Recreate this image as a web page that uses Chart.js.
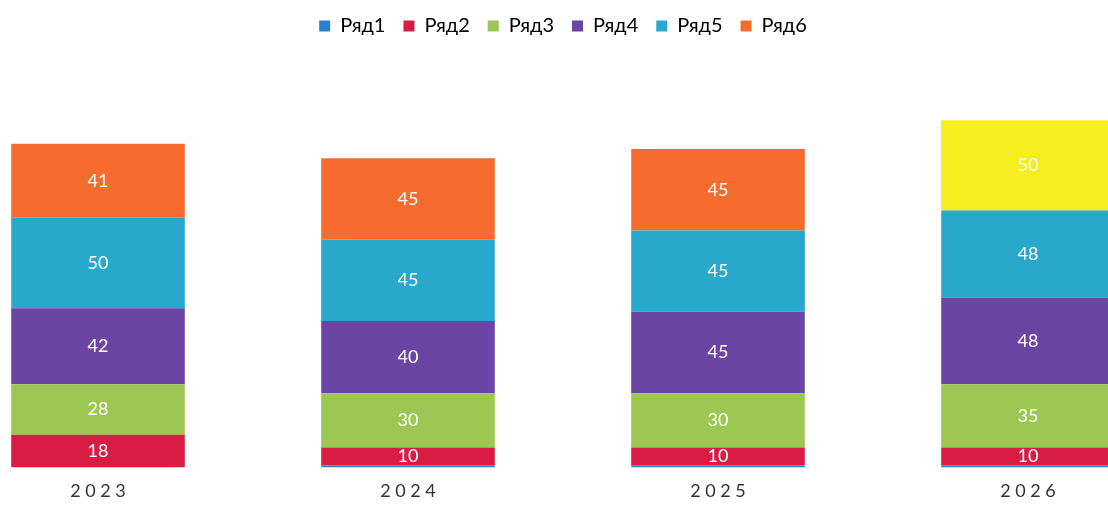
<!DOCTYPE html>
<html>
<head>
<meta charset="utf-8">
<script src="https://cdn.jsdelivr.net/npm/chart.js@4"></script>
<style>
  html, body { margin: 0; padding: 0; background: #fff; overflow: hidden; }
  #wrap { position: absolute; left: -57px; top: -2px; width: 1240px; height: 517px; }
</style>
</head>
<body>
<div id="wrap"><canvas id="chart"></canvas></div>
<script>
const years = ["2023", "2024", "2025", "2026"];
const row1 = [0, 1, 1, 1];
const row2 = [18, 10, 10, 10];
const row3 = [28, 30, 30, 35];
const row4 = [42, 40, 45, 48];
const row5 = [50, 45, 45, 48];
const row6 = [41, 45, 45, 50];

const series = [
  { label: "Ряд1", data: row1, color: "#2b7fd0", showLabel: false },
  { label: "Ряд2", data: row2, color: "#d81c44", showLabel: true },
  { label: "Ряд3", data: row3, color: "#9cc752", showLabel: true },
  { label: "Ряд4", data: row4, color: "#6a45a4", showLabel: true },
  { label: "Ряд5", data: row5, color: "#27a8cc", showLabel: true },
  { label: "Ряд6", data: row6, color: ["#f86b2e", "#f86b2e", "#f86b2e", "#f6ee1e"], legendColor: "#f86b2e", showLabel: true }
];

const segmentLabels = {
  id: "segmentLabels",
  afterDatasetsDraw(chart) {
    const ctx = chart.ctx;
    ctx.save();
    ctx.font = "18px Lato, 'Open Sans', sans-serif";
    ctx.fillStyle = "#ffffff";
    ctx.textAlign = "center";
    ctx.textBaseline = "middle";
    chart.data.datasets.forEach((ds, i) => {
      if (!series[i].showLabel) return;
      chart.getDatasetMeta(i).data.forEach((bar, j) => {
        const v = ds.data[j];
        if (!v) return;
        ctx.fillText(String(v), bar.x, (bar.y + bar.base) / 2);
      });
    });
    ctx.restore();
  }
};

new Chart(document.getElementById("chart"), {
  type: "bar",
  data: {
    labels: years,
    datasets: series.map(s => ({
      label: s.label,
      data: s.data,
      backgroundColor: s.color,
      borderWidth: 0,
      barPercentage: 0.56,
      categoryPercentage: 1
    }))
  },
  options: {
    responsive: true,
    maintainAspectRatio: false,
    animation: false,
    layout: { padding: { top: 0, bottom: 0, left: 0, right: 0 } },
    plugins: {
      tooltip: { enabled: false },
      legend: {
        position: "top",
        labels: {
          boxWidth: 11,
          boxHeight: 11,
          padding: 18,
          color: "#333",
          font: { family: "Lato, 'Open Sans', sans-serif", size: 20 },
          generateLabels(chart) {
            return series.map((s, i) => ({
              text: s.label,
              fillStyle: s.legendColor || s.color,
              strokeStyle: s.legendColor || s.color,
              lineWidth: 0,
              hidden: false,
              datasetIndex: i
            }));
          }
        }
      }
    },
    scales: {
      x: {
        stacked: true,
        grid: { display: false, drawTicks: false },
        border: { display: false },
        ticks: {
          color: "#333",
          padding: 13,
          font: { family: "Lato, 'Open Sans', sans-serif", size: 18 },
          callback: (v, i) => years[i].split("").join(" ")
        }
      },
      y: {
        stacked: true,
        display: false,
        min: 0,
        max: 233
      }
    }
  },
  plugins: [segmentLabels]
});
</script>
</body>
</html>
